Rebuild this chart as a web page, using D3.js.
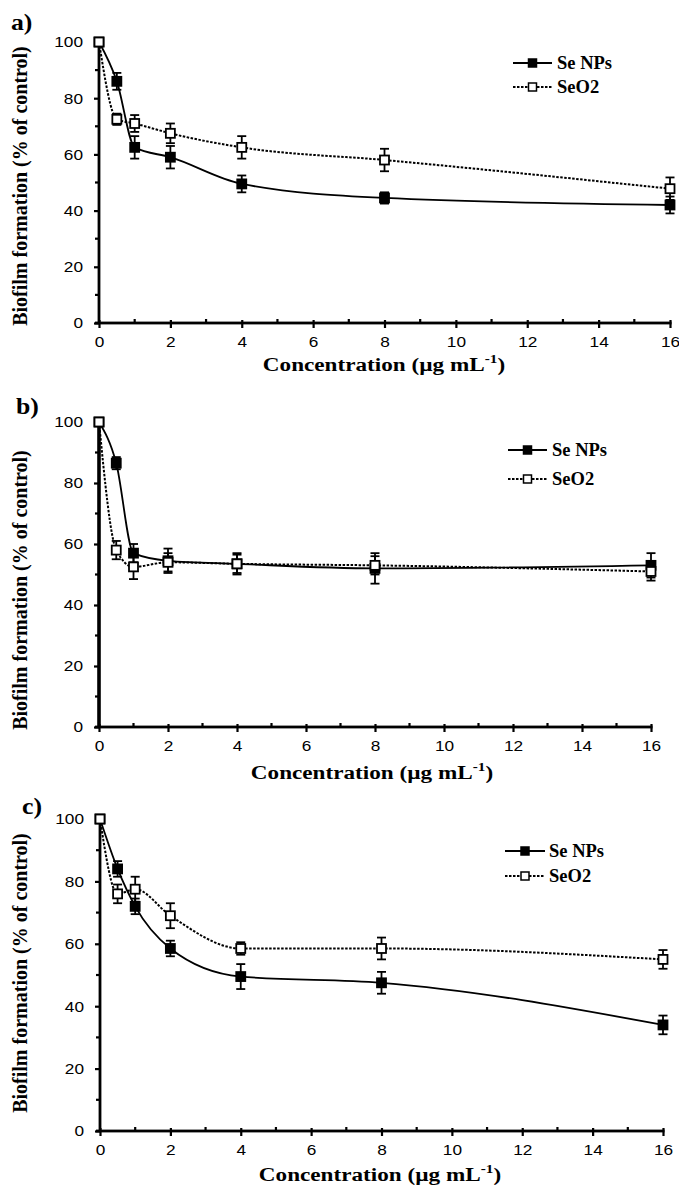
<!DOCTYPE html>
<html><head><meta charset="utf-8">
<script src="https://cdn.jsdelivr.net/npm/d3@7"></script>
<style>body{margin:0;background:#fff}svg{display:block}</style>
</head><body>
<script>
const conc = [0, 0.5, 1, 2, 4, 8, 16];
const seriesNames = ["Se NPs", "SeO2"];
const xTicks = [0, 2, 4, 6, 8, 10, 12, 14, 16];
const yTicks = [0, 20, 40, 60, 80, 100];
const panelLabels = ["a)", "b)", "c)"];

const a_seNPs    = [100, 86, 62.5, 59, 49.5, 44.5, 42];
const a_seNPsErr = [0, 3, 4, 4, 3, 2, 3];
const a_seO2     = [100, 72.5, 71, 67.5, 62.5, 58, 47.8];
const a_seO2Err  = [0, 2, 3, 3.5, 4, 4, 4];

const b_seNPs    = [100, 86.5, 57, 54.5, 53.5, 52, 53];
const b_seNPsErr = [0, 2, 3, 4, 3.5, 5, 4];
const b_seO2     = [100, 58, 52.5, 54, 53.5, 53, 51];
const b_seO2Err  = [0, 3, 4, 3, 3, 3, 3];

const c_seNPs    = [100, 84, 72, 58.5, 49.5, 47.5, 34];
const c_seNPsErr = [0, 2.5, 2.5, 2.5, 4, 3.5, 3];
const c_seO2     = [100, 76, 77.5, 69, 58.5, 58.5, 55];
const c_seO2Err  = [0, 3, 4, 4, 2, 3.5, 3];

const W = 679, H = 1189;
const svg = d3.select("body").append("svg").attr("width", W).attr("height", H);

const panels = [
  {label: panelLabels[0], lab:[11,30], x0:99, x1:670, yTop:42, yBot:323, axisW:2.8,
   nps:a_seNPs, npsE:a_seNPsErr, o2:a_seO2, o2E:a_seO2Err,
   leg:{x0:513, x1:552, y1:63, y2:87, tx:557}, yt:[20,186], xt:[384,371]},
  {label: panelLabels[1], lab:[16,414], x0:99, x1:651, yTop:422, yBot:727, axisW:3.6,
   nps:b_seNPs, npsE:b_seNPsErr, o2:b_seO2, o2E:b_seO2Err,
   leg:{x0:508, x1:547, y1:450, y2:479, tx:552}, yt:[20,590], xt:[372,779]},
  {label: panelLabels[2], lab:[22,814], x0:100, x1:663, yTop:819, yBot:1131, axisW:2.8,
   nps:c_seNPs, npsE:c_seNPsErr, o2:c_seO2, o2E:c_seO2Err,
   leg:{x0:505, x1:545, y1:851, y2:876, tx:549}, yt:[20,973], xt:[380,1181]}
];

const serif = "'Liberation Serif','Times New Roman',serif";
const sans = "'Liberation Sans',Arial,sans-serif";
const SX = 1.15;

panels.forEach(p => {
  const g = svg.append("g");
  const x = d3.scaleLinear().domain([0,16]).range([p.x0, p.x1]);
  const y = d3.scaleLinear().domain([0,100]).range([p.yBot, p.yTop]);

  g.append("text").attr("transform", `translate(${p.lab[0]},${p.lab[1]}) scale(1.12,1)`)
    .attr("font-family", serif).attr("font-weight","bold").attr("font-size", 23)
    .text(p.label);

  // Y axis
  const ya = g.append("g").attr("transform", `translate(${p.x0},0)`)
    .call(d3.axisLeft(y).tickValues(yTicks).tickSize(5).tickFormat(d3.format("d")));
  ya.select(".domain").remove();
  ya.selectAll(".tick line").attr("stroke","#000").attr("stroke-width", 2.2);
  ya.selectAll(".tick text").attr("x", 0)
    .attr("transform", `translate(-16,0) scale(${SX},1)`)
    .attr("font-family", sans).attr("font-size", 15).attr("fill","#000");
  g.append("rect").attr("x", p.x0 - p.axisW/2).attr("width", p.axisW)
    .attr("y", y(100) - 2).attr("height", y(0) - y(100) + 3).attr("fill", "#000");
  const yMinor = d3.range(10, 100, 20);
  g.selectAll(".ymin").data(yMinor).enter().append("line")
    .attr("x1", p.x0 - 4).attr("x2", p.x0).attr("y1", d => y(d)).attr("y2", d => y(d))
    .attr("stroke","#000").attr("stroke-width", 2.2);

  // X axis
  const xa = g.append("g").attr("transform", `translate(0,${p.yBot})`)
    .call(d3.axisBottom(x).tickValues(xTicks).tickSize(5).tickFormat(d3.format("d")));
  xa.select(".domain").remove();
  xa.selectAll(".tick line").attr("stroke","#000").attr("stroke-width", 2.2).attr("y1", -3);
  xa.selectAll(".tick text").attr("y", 0)
    .attr("transform", `translate(0,13) scale(${SX},1)`)
    .attr("font-family", sans).attr("font-size", 15).attr("fill","#000");
  g.append("rect").attr("x", x(0) - 4).attr("width", x(16) - x(0) + 5.5)
    .attr("y", p.yBot - 1.4).attr("height", 2.8).attr("fill", "#000");
  const xMinor = d3.range(1, 16, 2);
  g.selectAll(".xmin").data(xMinor).enter().append("line")
    .attr("x1", d => x(d)).attr("x2", d => x(d)).attr("y1", p.yBot - 4).attr("y2", p.yBot)
    .attr("stroke","#000").attr("stroke-width", 2.2);

  // Axis titles
  g.append("text").attr("transform", `translate(${p.yt[0]},${p.yt[1]}) rotate(-90)`)
    .attr("text-anchor","middle").attr("dominant-baseline","central")
    .attr("font-family", serif).attr("font-weight","bold").attr("font-size", 20)
    .text("Biofilm formation (% of control)");
  const xt = g.append("text").attr("transform", `translate(${p.xt[0]},${p.xt[1]}) scale(1.22,1)`)
    .attr("text-anchor","middle")
    .attr("font-family", serif).attr("font-weight","bold").attr("font-size", 19);
  xt.append("tspan").text("Concentration (µg mL");
  xt.append("tspan").attr("dy", -8).attr("font-size", 12.5).text("-1");
  xt.append("tspan").attr("dy", 8).text(")");

  const line = d3.line().x((d,i) => x(conc[i])).y(d => y(d)).curve(d3.curveMonotoneX);

  const series = [
    {vals:p.nps, err:p.npsE, dash:null, fill:"#000"},
    {vals:p.o2, err:p.o2E, dash:"2.5,1.5", fill:"#fff"}
  ];
  series.forEach(s => {
    g.append("path").attr("d", line(s.vals)).attr("fill","none")
      .attr("stroke","#000").attr("stroke-width", s.dash ? 2 : 1.8)
      .attr("stroke-dasharray", s.dash);
  });
  series.forEach(s => {
    const eg = g.append("g");
    s.vals.forEach((v,i) => {
      const e = s.err[i];
      if (e > 0) {
        const cx = x(conc[i]);
        eg.append("line").attr("x1",cx).attr("x2",cx).attr("y1",y(v+e)).attr("y2",y(v-e))
          .attr("stroke","#000").attr("stroke-width",1.8);
        [v+e, v-e].forEach(t => eg.append("line").attr("x1",cx-4.5).attr("x2",cx+4.5)
          .attr("y1",y(t)).attr("y2",y(t)).attr("stroke","#000").attr("stroke-width",1.8));
      }
    });
    eg.selectAll("rect").data(s.vals).enter().append("rect")
      .attr("x",(d,i)=>x(conc[i])-4.5).attr("y",d=>y(d)-4.5)
      .attr("width",9).attr("height",9)
      .attr("fill", s.fill).attr("stroke","#000").attr("stroke-width",1.8);
  });

  // Legend
  const L = p.leg;
  [[L.y1, null, "#000", seriesNames[0]], [L.y2, "2.5,1.5", "#fff", seriesNames[1]]].forEach(([ly, dash, fill, name]) => {
    g.append("line").attr("x1",L.x0).attr("x2",L.x1).attr("y1",ly).attr("y2",ly)
      .attr("stroke","#000").attr("stroke-width",1.8).attr("stroke-dasharray",dash);
    const mx = (L.x0 + L.x1)/2;
    g.append("rect").attr("x",mx-4).attr("y",ly-4).attr("width",8).attr("height",8)
      .attr("fill",fill).attr("stroke","#000").attr("stroke-width",1.5);
    g.append("text").attr("x",L.tx).attr("y",ly).attr("dominant-baseline","central")
      .attr("font-family",serif).attr("font-weight","bold").attr("font-size",18.5)
      .text(name);
  });
});
</script>
</body></html>
